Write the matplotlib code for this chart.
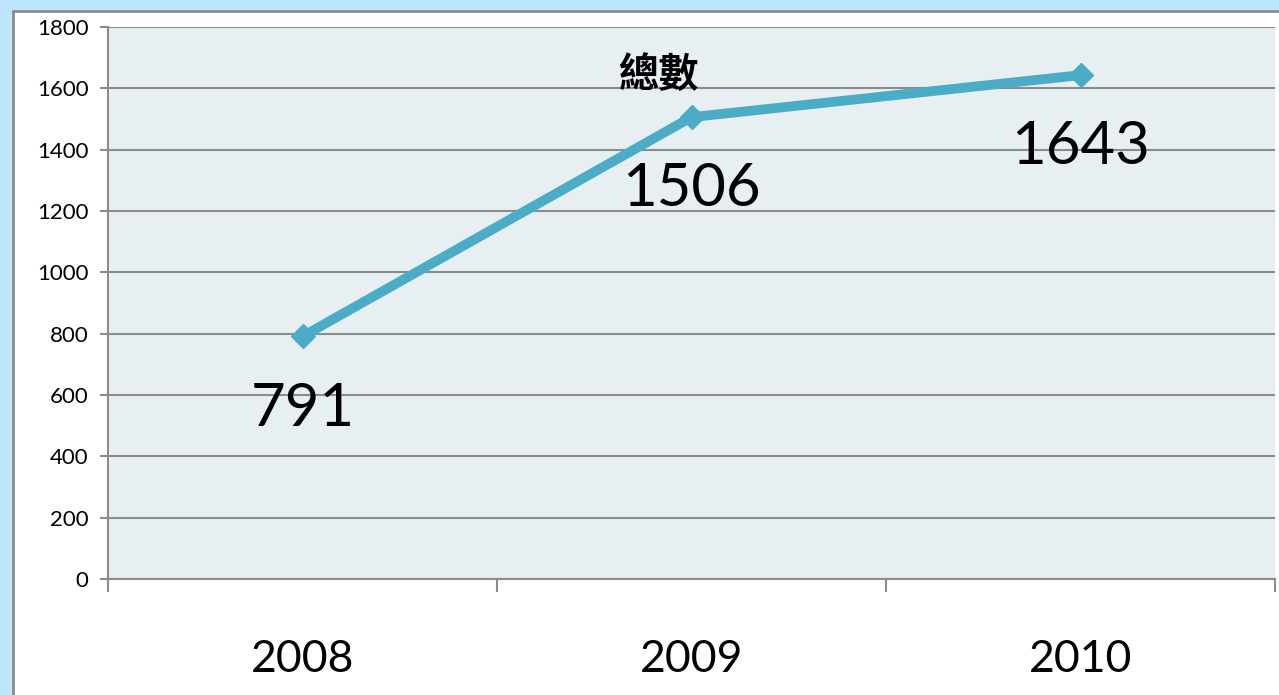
import matplotlib.pyplot as plt
import matplotlib.patches as patches

plt.rcParams['font.family'] = ['Lato', 'Noto Sans CJK TC', 'DejaVu Sans']

years = ['2008', '2009', '2010']
totals = [791, 1506, 1643]
title = '總數'
y_ticks = list(range(0, 1801, 200))

W, H = 1279, 695
fig = plt.figure(figsize=(W / 100, H / 100), dpi=100)
fig.patch.set_facecolor('#bde6fa')

#white panel with grey border, kept behind the axes
panel = patches.Rectangle((13 / W, -0.05), 1.1, 1 - 11 / H + 0.05, transform=fig.transFigure,
                          facecolor='white', edgecolor='#8c8c8c', linewidth=2, zorder=-10)
fig.patches.append(panel)

ax = fig.add_axes([108 / W, 1 - 579 / H, (1275 - 108) / W, (579 - 27) / H])
ax.set_zorder(1)
ax.set_facecolor('#e7eff3')

x = list(range(len(years)))
ax.plot(x, totals, color='#4bacc6', linewidth=7, marker='D', markersize=12,
        markerfacecolor='#4bacc6', markeredgecolor='#4bacc6', solid_capstyle='round', zorder=3)

for xi, v in zip(x, totals):
    ax.annotate(str(v), (xi, v), xytext=(0, -52), textcoords='offset points',
                ha='center', va='center', fontsize=43, color='black', zorder=4)

ax.text(0.916, 1640, title, ha='center', va='center', fontsize=29, fontweight='bold',
        family=['Noto Sans CJK TC', 'DejaVu Sans'], zorder=4)

ax.set_xlim(-0.5, 2.5)
ax.set_ylim(0, 1800)
ax.set_yticks(y_ticks)
ax.set_yticklabels([str(t) for t in y_ticks], fontsize=16)
ax.set_xticks([-0.5, 0.5, 1.5, 2.5])
ax.set_xticklabels([])
ax.set_xticks(x, minor=True)
ax.set_xticklabels(years, minor=True, fontsize=32)
ax.tick_params(axis='x', which='major', length=9, width=1.5, color='#8c8c8c', direction='out')
ax.tick_params(axis='x', which='minor', length=0, pad=43)
ax.tick_params(axis='y', length=6, width=1.5, color='#8c8c8c', pad=8)

ax.grid(axis='y', color='#8c8c8c', linewidth=1.5, zorder=1)
ax.set_axisbelow(True)
for s in ['top', 'right']:
    ax.spines[s].set_visible(False)
for s in ['left', 'bottom']:
    ax.spines[s].set_color('#8c8c8c')
    ax.spines[s].set_linewidth(1.5)

fig.savefig('out.png', dpi=100)
